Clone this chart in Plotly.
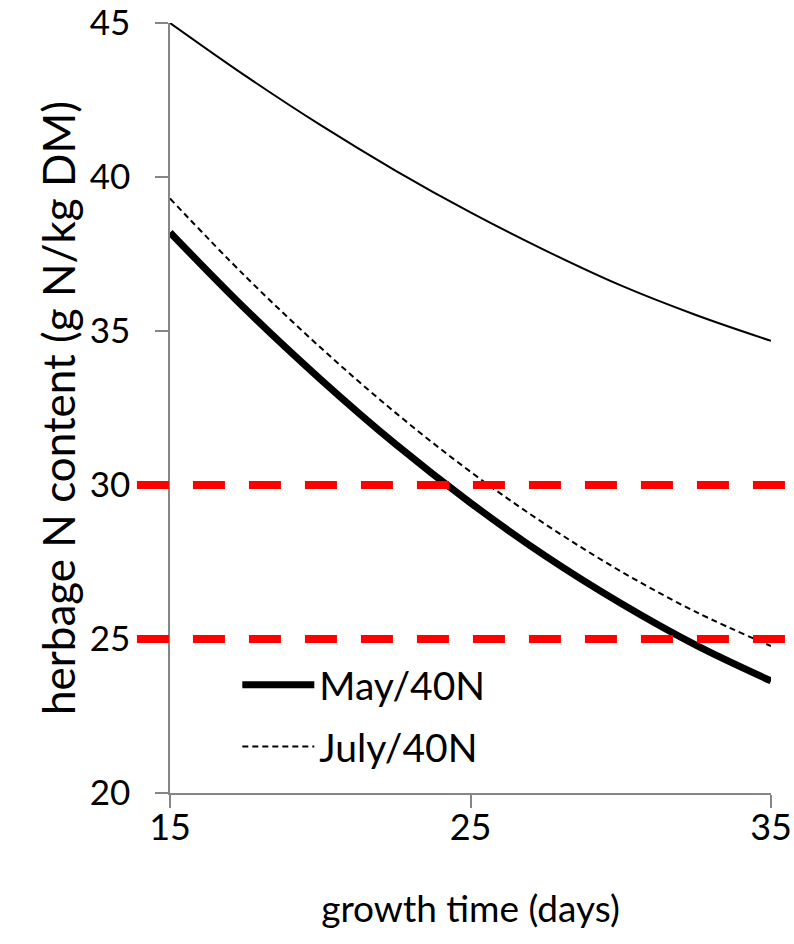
import plotly.graph_objects as go

# growth time (days)
days = [15, 17.5, 20, 22.5, 25, 27.5, 30, 32.5, 35]

# herbage N content (g N/kg DM)
upper_curve = [45.0, 43.29, 41.69, 40.21, 38.85, 37.61, 36.48, 35.52, 34.68]
may_40n = [38.2, 35.72, 33.44, 31.33, 29.42, 27.69, 26.16, 24.80, 23.64]
july_40n = [39.3, 36.78, 34.47, 32.35, 30.43, 28.72, 27.20, 25.88, 24.77]

# reference thresholds
thresholds = [30, 25]

x_ticks = [15, 25, 35]
y_ticks = [20, 25, 30, 35, 40, 45]

FONT = "Lato"
AXIS_GRAY = "#868686"

fig = go.Figure()

fig.add_trace(go.Scatter(
    x=days, y=upper_curve, mode="lines", line=dict(color="black", width=2),
    showlegend=False, line_shape="spline"))
fig.add_trace(go.Scatter(
    x=days, y=may_40n, mode="lines", name="May/40N",
    line=dict(color="black", width=7), line_shape="spline", legendgroup="a"))
fig.add_trace(go.Scatter(
    x=days, y=july_40n, mode="lines", name="July/40N",
    line=dict(color="black", width=2, dash="6px,4px"), line_shape="spline", legendgroup="b"))

for t in thresholds:
    fig.add_shape(type="line", xref="paper", yref="y",
                  x0=-0.055, x1=1.03, y0=t, y1=t,
                  line=dict(color="#ff0000", width=8, dash="32px,24px"),
                  layer="above")

fig.update_layout(
    width=794, height=944,
    margin=dict(l=170, r=23, t=23, b=151, autoexpand=False),
    paper_bgcolor="white", plot_bgcolor="white",
    font=dict(family=FONT, size=38, color="black"),
    showlegend=True,
    legend=dict(x=0.112, y=0.182, xanchor="left", yanchor="top",
                bgcolor="rgba(0,0,0,0)", font=dict(size=39),
                itemwidth=72, tracegroupgap=8),
    xaxis=dict(range=[15, 35], tickvals=x_ticks, ticks="outside", ticklen=13,
               tickwidth=1.5, tickcolor=AXIS_GRAY, showline=True, linecolor=AXIS_GRAY,
               linewidth=1.5, showgrid=False, zeroline=False,
               tickfont=dict(size=36), ticklabelstandoff=-11, ticklabeloverflow="allow",
               title=dict(text="growth time (days)", font=dict(size=37), standoff=49)),
    yaxis=dict(range=[20, 45], tickvals=y_ticks, ticks="outside", ticklen=13,
               tickwidth=1.5, tickcolor=AXIS_GRAY, showline=True, linecolor=AXIS_GRAY,
               linewidth=1.5, showgrid=False, zeroline=False,
               tickfont=dict(size=35), ticklabelstandoff=18, ticklabeloverflow="allow",
               title=dict(text="herbage N content (g N/kg DM)", font=dict(size=44), standoff=0)),
)

fig.write_html(
    "out.html",
    config={"displayModeBar": False},
    post_script="document.body.style.margin='0';document.body.style.overflow='hidden';",
)
